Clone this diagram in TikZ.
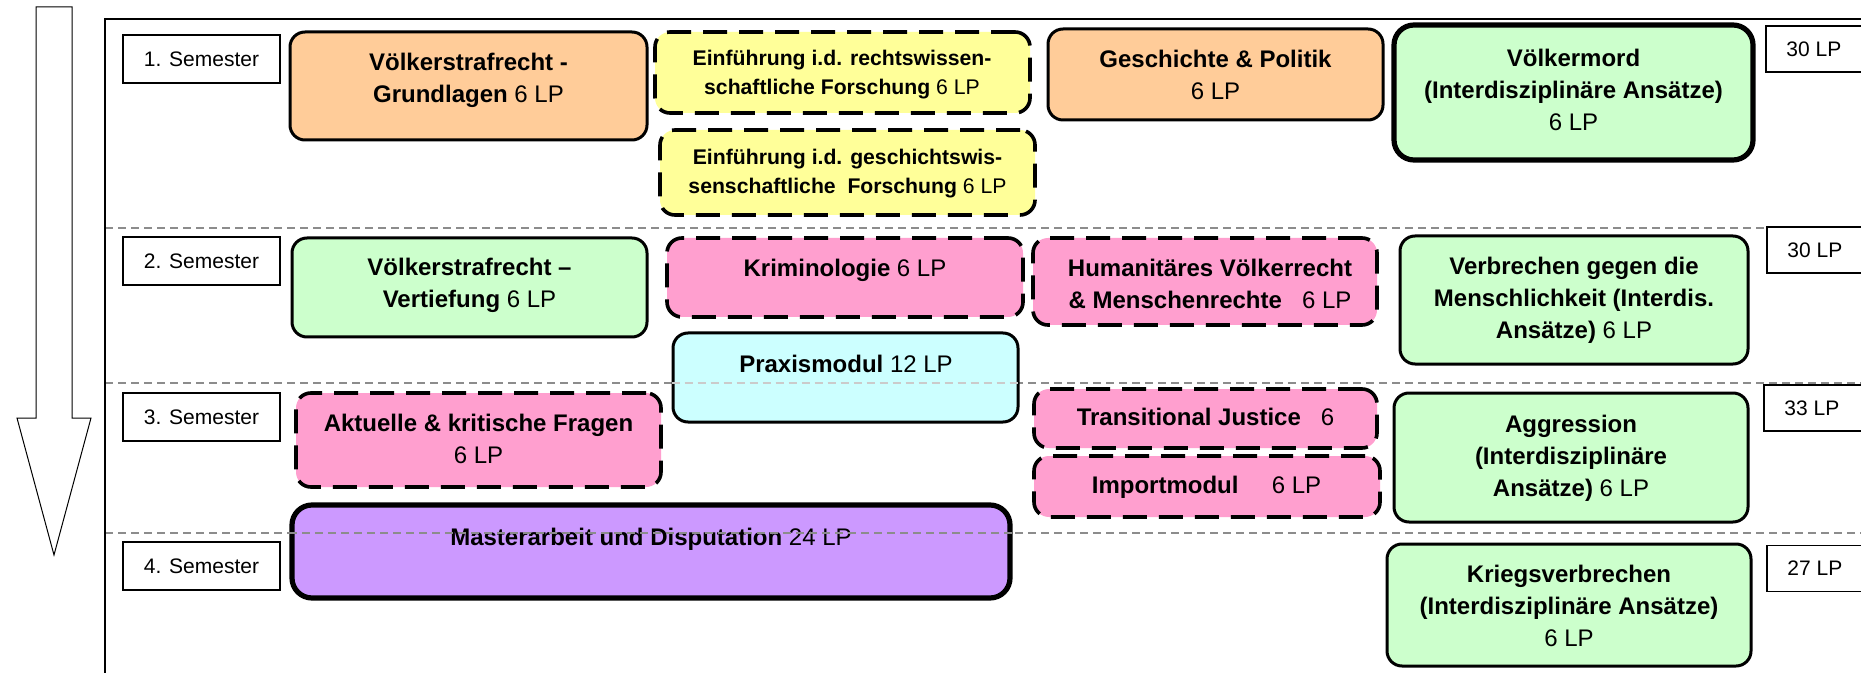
\documentclass[tikz,border=0pt]{standalone}
\usepackage{fontspec}
\setmainfont{Liberation Sans}
\usetikzlibrary{fit}
\definecolor{cOrange}{HTML}{FFCC99}
\definecolor{cYellow}{HTML}{FFFF99}
\definecolor{cGreen}{HTML}{CCFFCC}
\definecolor{cPink}{HTML}{FF9FCF}
\definecolor{cCyan}{HTML}{CCFFFF}
\definecolor{cPurple}{HTML}{CC99FF}
\definecolor{cDash}{HTML}{8C8C8C}
\newcommand\modf{\fontsize{12}{16}\selectfont}
\newcommand\smallmodf{\fontsize{10.6}{14.5}\selectfont}
\newcommand\labf{\fontsize{10.5}{12}\selectfont}
\newcommand\mt[1]{\begin{tabular}[t]{@{}c@{}}#1\end{tabular}}
\begin{document}
\begin{tikzpicture}[x=0.5pt,y=-0.5pt,
 modbox/.style={draw=black, line width=1.5pt, rounded corners=7.5pt, inner sep=0pt},
 dashmod/.style={modbox, line width=1.8pt, dash pattern=on 12pt off 6pt},
 heavymod/.style={modbox, line width=2.6pt, rounded corners=10pt},
 txt/.style={anchor=base, inner sep=0pt, font=\modf},
 smalltxt/.style={txt, font=\smallmodf},
 sembox/.style={draw, line width=0.85pt, fill=white, minimum width=78.5pt, minimum height=24pt, inner sep=0pt, font=\labf},
 lpbox/.style={draw, line width=0.85pt, fill=white, anchor=west, minimum height=23pt, minimum width=70pt, inner sep=0pt},
 lptxt/.style={anchor=west, inner sep=0pt, font=\labf},
 semline/.style={draw=cDash, line width=0.75pt, dash pattern=on 4pt off 2.5pt},
]
\useasboundingbox (0,0) rectangle (1861,673);
\fill[white] (0,0) rectangle (1861,673);

% semester separators
\draw[semline] (105,228) -- (1861,228);
\draw[semline] (105,383) -- (1861,383);
\draw[semline] (105,533) -- (1861,533);

% frame
\draw[line width=0.8pt] (105,680) -- (105,19) -- (1870,19);

% big arrow
\draw[line width=0.5pt, fill=white] (36,7) -- (72,7) -- (72,418) -- (91,418) -- (54,555) -- (17,418) -- (36,418) -- cycle;

% semester labels
\node[sembox] (s1) at (201.5,59) {1. Semester};
\node[sembox] (s2) at (201.5,261) {2. Semester};
\node[sembox] (s3) at (201.5,417) {3. Semester};
\node[sembox] (s4) at (201.5,566) {4. Semester};

% LP labels
\node[lpbox] (lp1) at (1765,49) {};
\node[lptxt] (lp1t) at (1786,49) {30 LP};
\node[lpbox] (lp2) at (1766,250) {};
\node[lptxt] (lp2t) at (1787,250) {30 LP};
\node[lpbox] (lp3) at (1763,408) {};
\node[lptxt] (lp3t) at (1784,408) {33 LP};
\node[lpbox] (lp4) at (1766,568.5) {};
\node[lptxt] (lp4t) at (1787,568.5) {27 LP};

% module boxes
\node[modbox, fill=cOrange, fit={(290,32) (647,140)}] (vg) {};
\node[dashmod, fill=cYellow, fit={(655,32) (1030,113)}] (e1) {};
\node[dashmod, fill=cYellow, fit={(660,130) (1035,215)}] (e2) {};
\node[modbox, fill=cOrange, fit={(1048,29) (1383,120)}] (gp) {};
\node[heavymod, fill=cGreen, fit={(1394,25) (1753,160)}] (vm) {};
\node[modbox, fill=cGreen, fit={(292,238) (647,337)}] (vv) {};
\node[dashmod, fill=cPink, fit={(667,238) (1023,317)}] (kr) {};
\node[dashmod, fill=cPink, fit={(1033,238) (1377,325)}] (hv) {};
\node[modbox, fill=cGreen, fit={(1400,236) (1748,364)}] (vgm) {};
\node[modbox, fill=cCyan, fit={(673,333) (1018,422)}] (pm) {};
\node[dashmod, fill=cPink, fit={(296,393) (661,487)}] (ak) {};
\node[dashmod, fill=cPink, fit={(1034,389) (1377,448)}] (tj) {};
\node[dashmod, fill=cPink, fit={(1034,456) (1380,517)}] (im) {};
\node[modbox, fill=cGreen, fit={(1394,393) (1748,522)}] (ag) {};
\node[heavymod, fill=cPurple, fit={(292,505) (1010,598)}] (ma) {};
\node[modbox, fill=cGreen, fit={(1387,544) (1751,666)}] (kv) {};

% module texts
\node[txt] (vgT) at (468.5,71) {\mt{\textbf{Völkerstrafrecht -}\\\textbf{Grundlagen} 6 LP}};
\node[smalltxt] (e1T) at (842,66) {\mt{\textbf{Einführung i.d. rechtswissen-}\\\textbf{schaftliche Forschung} 6 LP}};
\node[smalltxt] (e2T) at (847.5,165) {\mt{\textbf{Einführung i.d. geschichtswis-}\\\textbf{senschaftliche\ \ Forschung} 6 LP}};
\node[txt] (gpT) at (1215.5,68) {\mt{\textbf{Geschichte \& Politik}\\6 LP}};
\node[txt] (vmT) at (1573.5,67) {\mt{\textbf{Völkermord}\\\textbf{(Interdisziplinäre Ansätze)}\\6 LP}};
\node[txt] (vvT) at (469.5,276) {\mt{\textbf{Völkerstrafrecht –}\\\textbf{Vertiefung} 6 LP}};
\node[txt] (krT) at (845,277) {\textbf{Kriminologie} 6 LP};
\node[txt] (hvT) at (1210,277) {\mt{\textbf{Humanitäres Völkerrecht}\\\textbf{\& Menschenrechte}\ \ \ 6 LP}};
\node[txt] (vgmT) at (1574,275) {\mt{\textbf{Verbrechen gegen die}\\\textbf{Menschlichkeit (Interdis.}\\\textbf{Ansätze)} 6 LP}};
\node[txt] (pmT) at (846,372) {\textbf{Praxismodul} 12 LP};
\node[txt] (akT) at (478.5,431) {\mt{\textbf{Aktuelle \& kritische Fragen}\\6 LP}};
\node[txt] (tjT) at (1205.5,425) {\textbf{Transitional Justice}\ \ \ 6};
\node[txt] (imT) at (1206.5,493) {\textbf{Importmodul}\ \ \ \ \ 6 LP};
\node[txt] (agT) at (1571,432) {\mt{\textbf{Aggression}\\\textbf{(Interdisziplinäre}\\\textbf{Ansätze)} 6 LP}};
\node[txt] (maT) at (651,545) {\textbf{Masterarbeit und Disputation} 24 LP};
\node[txt] (kvT) at (1569,582) {\mt{\textbf{Kriegsverbrechen}\\\textbf{(Interdisziplinäre Ansätze)}\\6 LP}};

% separator lines showing over boxes
\draw[semline, draw=cDash!45] (pm.west |- 0,383) -- (pm.east |- 0,383);
\draw[semline] (ma.west |- 0,533) -- (ma.east |- 0,533);
\end{tikzpicture}
\end{document}
